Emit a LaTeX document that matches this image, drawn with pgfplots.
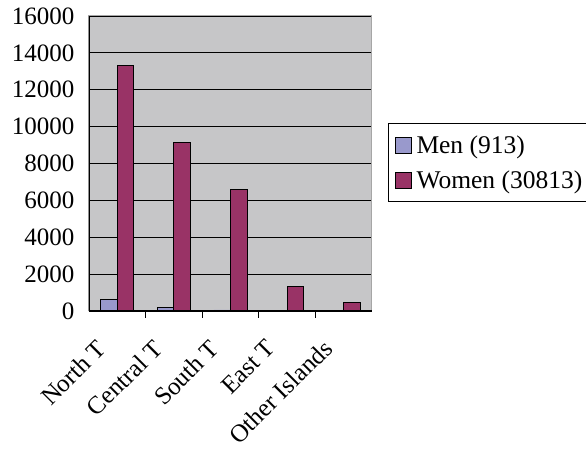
\documentclass[border=0pt]{standalone}
\usepackage{pgfplots}
\pgfplotsset{compat=1.18}
\usepackage{fontspec}
\setmainfont{Liberation Serif}

\definecolor{menc}{HTML}{9999CC}
\definecolor{womenc}{HTML}{993366}
\definecolor{plotbg}{HTML}{C6C6C8}

\begin{document}
\begin{tikzpicture}
\begin{axis}[
  scale only axis,
  width=283pt,
  height=295pt,
  xmin=-0.5, xmax=4.5,
  ymin=0, ymax=16000,
  ytick={0,2000,...,16000},
  scaled y ticks=false,
  ymajorgrids,
  major grid style={black, line width=0.9pt},
  axis line style={draw=gray!70, line width=1pt},
  axis background/.style={fill=plotbg},
  tick align=inside,
  major tick length=7pt,
  tick style={black, line width=0.9pt},
  xtick pos=bottom,
  ytick pos=left,
  xtick={0.5,1.5,2.5,3.5},
  xticklabels={},
  extra x ticks={0,1,2,3,4},
  extra x tick labels={North T,Central T,South T,East T,Other Islands},
  extra x tick style={major tick length=0pt,
    tick label style={inner sep=2pt, xshift=-22pt, yshift=-24pt, rotate=45, anchor=north east}},
  yticklabel style={xshift=-11pt},
  tick label style={font=\fontsize{25}{28}\selectfont},
  /pgf/number format/.cd, 1000 sep={}, assume math mode=true, /pgfplots/.cd,
  ybar=0pt,
  bar width=16.5pt,
  legend style={at={(rel axis cs:1,1)}, anchor=north west, xshift=16pt, yshift=-107pt,
    draw=black, fill=white, line width=1pt, font=\fontsize{25.5}{28}\selectfont,
    row sep=12pt, inner xsep=6pt, inner ysep=10pt, legend cell align=left,
    nodes={inner xsep=5pt}},
  legend image code/.code={\draw[#1, draw=black, line width=1pt] (0pt,-8pt) rectangle (16pt,8pt);},
]
\addplot[fill=menc, draw=black, line width=0.9pt] coordinates {
  (0,640) (1,210) (2,55) (3,5) (4,3)
};
\addplot[fill=womenc, draw=black, line width=0.9pt] coordinates {
  (0,13300) (1,9130) (2,6580) (3,1350) (4,450)
};
\legend{Men (913), Women (30813)}
\draw[gray!70, line width=1pt] (rel axis cs:0,1) -- (rel axis cs:1,1) -- (rel axis cs:1,0);
\draw[black, line width=1.3pt] (rel axis cs:0,1) -- (rel axis cs:0,0) -- (rel axis cs:1,0);
\end{axis}
\pgfresetboundingbox
\path (current axis.south west) ++(-89pt,-138pt) rectangle ++(586pt,449pt);
\end{tikzpicture}
\end{document}
